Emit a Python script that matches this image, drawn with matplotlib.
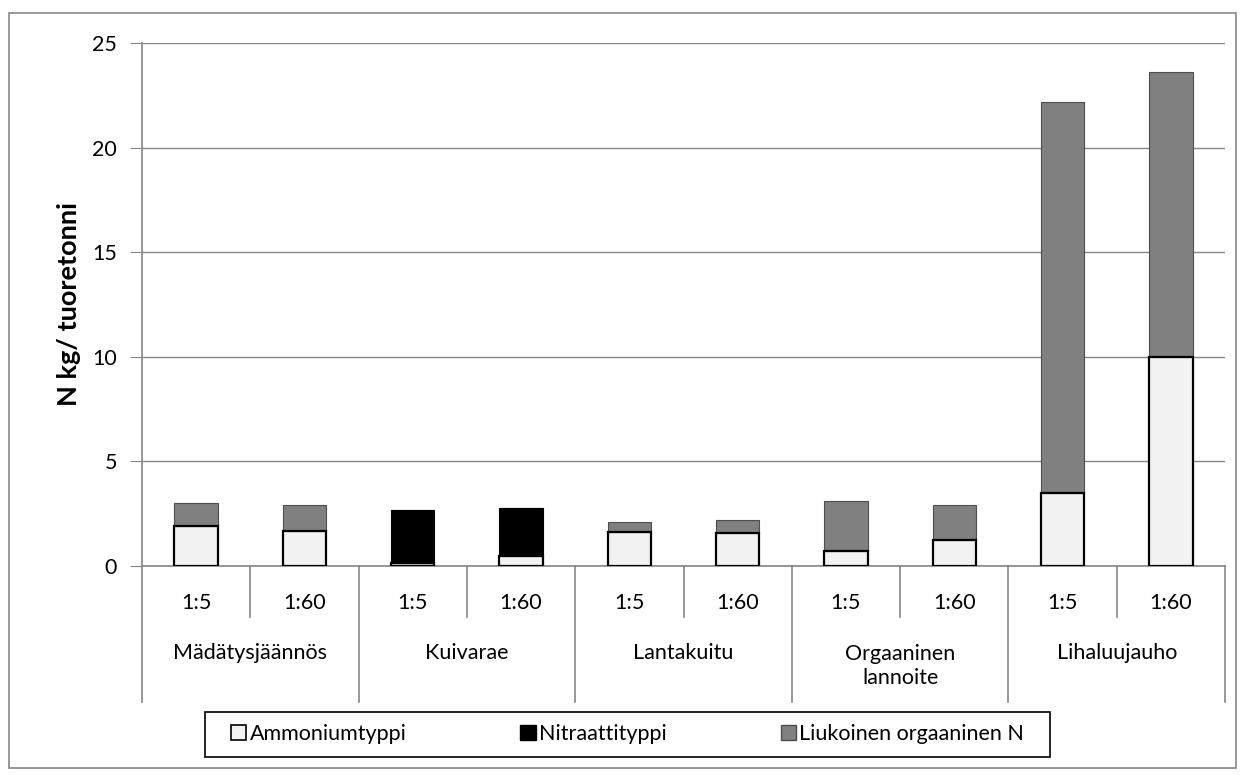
import matplotlib.pyplot as plt
import matplotlib.transforms as mtransforms
from matplotlib.patches import Patch, Rectangle

plt.rcParams['font.family'] = ['Lato', 'DejaVu Sans']

groups = ["Mädätysjäännös", "Kuivarae", "Lantakuitu", "Orgaaninen\nlannoite", "Lihaluujauho"]
ratios = ["1:5", "1:60"]
ammonium = [1.93, 1.69, 0.16, 0.49, 1.61, 1.58, 0.73, 1.23, 3.51, 9.98]
nitrate = [0, 0, 2.52, 2.26, 0, 0, 0, 0, 0, 0]
organic = [1.07, 1.21, 0, 0, 0.47, 0.62, 2.37, 1.67, 18.69, 13.62]

GRAY = '#868686'
FS = 15.5


def main():
    W, H = 1244, 775
    fig = plt.figure(figsize=(W / 100, H / 100), dpi=100)
    ax = fig.add_axes([142 / W, (H - 566) / H, (1225 - 142) / W, (566 - 43) / H])

    x = list(range(len(ammonium)))
    bottom2 = [a + n for a, n in zip(ammonium, nitrate)]
    ax.bar(x, ammonium, width=0.4, color='#F2F2F2', edgecolor='black', linewidth=1.6, zorder=3)
    ax.bar(x, nitrate, width=0.4, bottom=ammonium, color='black', edgecolor='black',
           linewidth=0.8, zorder=3)
    ax.bar(x, organic, width=0.4, bottom=bottom2, color='#808080', edgecolor='#4d4d4d',
           linewidth=0.8, zorder=2)

    ax.set_xlim(-0.5, len(x) - 0.5)
    ax.set_ylim(0, 25)
    ax.set_yticks([0, 5, 10, 15, 20, 25])
    ax.yaxis.grid(True, color=GRAY, linewidth=1)
    ax.set_axisbelow(True)
    ax.tick_params(axis='y', length=9, color=GRAY, labelsize=FS, pad=9)
    ax.set_xticks([])
    for s in ['top', 'right']:
        ax.spines[s].set_visible(False)
    for s in ['left', 'bottom']:
        ax.spines[s].set_color(GRAY)
        ax.spines[s].set_linewidth(1.2)
    ax.set_ylabel("N kg/ tuoretonni", fontsize=19.5, fontweight='bold', labelpad=8)

    # two-level category axis
    trans = mtransforms.blended_transform_factory(ax.transData, ax.transAxes)
    ah = 566 - 43
    y_short = (566 - 617) / ah
    y_long = (566 - 702) / ah
    for i in range(len(x) + 1):
        xe = i - 0.5
        yb = y_long if i % 2 == 0 else y_short
        ax.plot([xe, xe], [0, yb], transform=trans, color=GRAY, lw=1.2, clip_on=False)
    for i in x:
        ax.text(i, (566 - 603) / ah, ratios[i % 2], transform=trans, ha='center',
                va='center', fontsize=FS)
    for g, name in enumerate(groups):
        yc = 653 if '\n' not in name else 666
        ax.text(2 * g + 0.5, (566 - yc) / ah, name, transform=trans, ha='center',
                va='center', fontsize=FS, linespacing=1.3)

    # legend with its own frame
    fig.patches.append(Rectangle((205 / W, (H - 757) / H), 845 / W, 45 / H,
                                 transform=fig.transFigure, fill=False,
                                 edgecolor='black', linewidth=1.2))
    handles = [Patch(facecolor='#F2F2F2', edgecolor='black', linewidth=1.2),
               Patch(facecolor='black', edgecolor='black'),
               Patch(facecolor='#808080', edgecolor='#4d4d4d')]
    labels = ["Ammoniumtyppi", "Nitraattityppi", "Liukoinen orgaaninen N"]
    fig.legend(handles, labels, loc='center', ncol=3,
               bbox_to_anchor=((205 + 1050) / 2 / W, (H - 734) / H),
               fontsize=FS, frameon=False,
               handlelength=0.7, handleheight=0.7, handletextpad=0.15,
               columnspacing=5.3)

    fig.patches.append(Rectangle((9 / W, (H - 768) / H), (1236 - 9) / W, (768 - 13) / H,
                                 transform=fig.transFigure, fill=False,
                                 edgecolor=GRAY, linewidth=1.2))

    plt.savefig('out.png', dpi=100)


if __name__ == '__main__':
    main()
